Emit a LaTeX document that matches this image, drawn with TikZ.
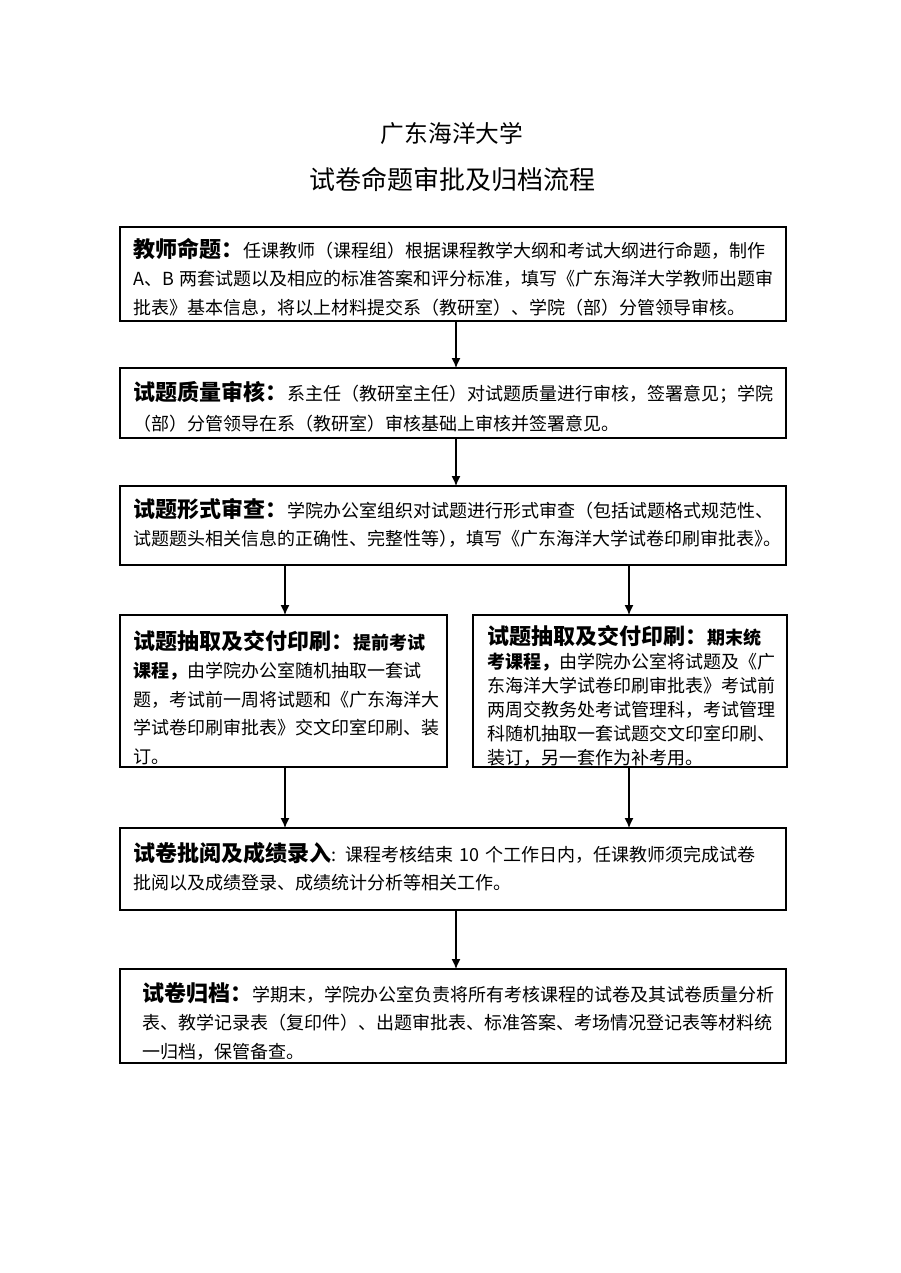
\documentclass[tikz,border=0pt]{standalone}
\usepackage{fontspec}
\setmainfont{Noto Sans CJK SC}
\usetikzlibrary{arrows.meta,fit}
\newcommand{\hd}[1]{{\fontsize{22}{22}\selectfont\bfseries #1}}
\newcommand{\bd}[1]{{\bfseries #1}}
\begin{document}
\begin{tikzpicture}[x=1pt,y=-1pt,
  box/.style={draw, line width=1.4pt, inner sep=0pt, outer sep=0pt},
  txt/.style={anchor=north west, inner sep=0pt, align=left, text width=#1},
  arr/.style={line width=1.3pt, -{Latex[length=10pt,width=9pt]}},
  ttl/.style={inner sep=0pt}]
\fill[white] (0,0) rectangle (900,1273);
\useasboundingbox (0,0) rectangle (900,1273);

% titles
\node[ttl, font=\fontsize{23.7}{24}\selectfont] (tt1) at (452,134) {广东海洋大学};
\node[ttl, font=\fontsize{26}{26}\selectfont] (tt2) at (452,180) {试卷命题审批及归档流程};

% boxes
\node[box, fit={(120,227) (786,321)}] (b1) {};
\node[box, fit={(120,368) (786,438)}] (b2) {};
\node[box, fit={(120,486) (786,565)}] (b3) {};
\node[box, fit={(120,615) (447,767)}] (b4l) {};
\node[box, fit={(473,615) (787,767)}] (b4r) {};
\node[box, fit={(120,828) (786,910)}] (b5) {};
\node[box, fit={(120,969) (786,1063)}] (b6) {};

% texts
\node[txt=650pt, font=\fontsize{18}{28.5}\selectfont] (t1) at (133,238) {%
\hd{教师命题：}任课教师（课程组）根据课程教学大纲和考试大纲进行命题，制作\\
A、B 两套试题以及相应的标准答案和评分标准，填写《广东海洋大学教师出题审\\
批表》基本信息，将以上材料提交系（教研室）、学院（部）分管领导审核。};

\node[txt=650pt, font=\fontsize{18}{30}\selectfont] (t2) at (133,381) {%
\hd{试题质量审核：}系主任（教研室主任）对试题质量进行审核，签署意见；学院\\
（部）分管领导在系（教研室）审核基础上审核并签署意见。};

\node[txt=650pt, font=\fontsize{18}{28.5}\selectfont] (t3) at (133,498) {%
\hd{试题形式审查：}学院办公室组织对试题进行形式审查（包括试题格式规范性、\\
试题题头相关信息的正确性、完整性等）\kern-9pt，填写《广东海洋大学试卷印刷审批表》\kern-9pt。};

\node[txt=312pt, font=\fontsize{18}{28.5}\selectfont] (t4l) at (133,630) {%
\hd{试题抽取及交付印刷：}\bd{提前考试}\\
\bd{课程，}由学院办公室随机抽取一套试\\
题，考试前一周将试题和《广东海洋大\\
学试卷印刷审批表》交文印室印刷、装\\
订。};

\node[txt=300pt, font=\fontsize{18}{24}\selectfont] (t4r) at (487,625) {%
\hd{试题抽取及交付印刷：}\bd{期末统}\\
\bd{考课程，}由学院办公室将试题及《广\\
东海洋大学试卷印刷审批表》考试前\\
两周交教务处考试管理科，考试管理\\
科随机抽取一套试题交文印室印刷、\\
装订，另一套作为补考用。};

\node[txt=650pt, font=\fontsize{18}{28}\selectfont] (t5) at (133,842) {%
\hd{试卷批阅及成绩录入}: 课程考核结束 10 个工作日内，任课教师须完成试卷\\
批阅以及成绩登录、成绩统计分析等相关工作。};

\node[txt=640pt, font=\fontsize{18}{28.5}\selectfont] (t6) at (142,982) {%
\hd{试卷归档：}学期末，学院办公室负责将所有考核课程的试卷及其试卷质量分析\\
表、教学记录表（复印件）、出题审批表、标准答案、考场情况登记表等材料统\\
一归档，保管备查。};

% connectors
\coordinate (ax) at (456,0);
\coordinate (lx) at (285,0);
\coordinate (rx) at (629,0);
\draw[arr] (b1.south -| ax) -- (b2.north -| ax);
\draw[arr] (b2.south -| ax) -- (b3.north -| ax);
\draw[arr] (b3.south -| lx) -- (b4l.north -| lx);
\draw[arr] (b3.south -| rx) -- (b4r.north -| rx);
\draw[arr] (b4l.south -| lx) -- (b5.north -| lx);
\draw[arr] (b4r.south -| rx) -- (b5.north -| rx);
\draw[arr] (b5.south -| ax) -- (b6.north -| ax);
\end{tikzpicture}
\end{document}
